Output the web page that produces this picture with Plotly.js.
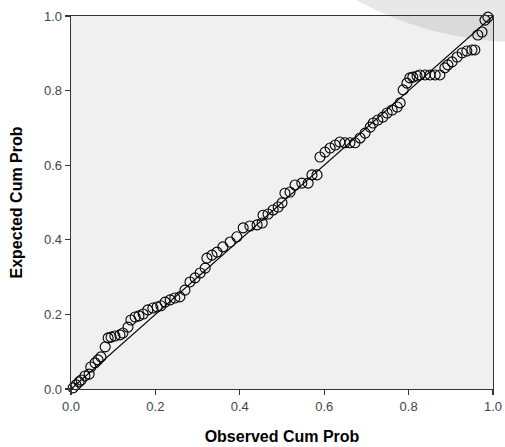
<!DOCTYPE html>
<html>
<head>
<meta charset="utf-8">
<script src="https://cdn.plot.ly/plotly-3.0.1.min.js"></script>
<style>html,body{margin:0;padding:0;background:#fff;}#chart{width:505px;height:447px;}</style>
</head>
<body>
<div id="chart"></div>
<script>
// Observed cumulative probability
var observed = [0.005,0.012,0.019,0.024,0.033,0.043,0.047,0.057,0.064,0.071,
0.081,0.088,0.095,0.104,0.116,0.123,0.135,0.142,0.152,0.161,
0.171,0.182,0.194,0.204,0.213,0.223,0.235,0.246,0.258,0.270,
0.282,0.294,0.306,0.318,0.322,0.334,0.346,0.360,0.377,0.393,
0.408,0.424,0.441,0.453,0.455,0.467,0.479,0.491,0.500,0.507,
0.519,0.531,0.547,0.562,0.571,0.583,0.590,0.602,0.614,0.626,
0.637,0.649,0.661,0.673,0.685,0.697,0.709,0.716,0.727,0.739,
0.749,0.761,0.773,0.780,0.787,0.796,0.803,0.810,0.820,0.827,
0.839,0.851,0.863,0.874,0.886,0.893,0.903,0.915,0.927,0.938,
0.950,0.957,0.964,0.974,0.981,0.988];
// Expected cumulative probability
var expected = [0.003,0.011,0.019,0.024,0.035,0.040,0.059,0.070,0.078,0.086,
0.113,0.137,0.139,0.142,0.145,0.150,0.166,0.185,0.193,0.196,
0.201,0.212,0.217,0.220,0.223,0.233,0.239,0.244,0.247,0.265,
0.287,0.298,0.311,0.324,0.351,0.359,0.367,0.381,0.394,0.408,
0.432,0.437,0.440,0.445,0.466,0.469,0.480,0.488,0.499,0.525,
0.528,0.547,0.552,0.552,0.574,0.574,0.622,0.635,0.646,0.654,
0.662,0.660,0.660,0.660,0.673,0.686,0.702,0.713,0.721,0.729,
0.740,0.748,0.756,0.767,0.802,0.820,0.834,0.836,0.839,0.842,
0.842,0.842,0.842,0.842,0.861,0.869,0.877,0.890,0.901,0.906,
0.909,0.909,0.949,0.957,0.989,0.997];
var refLineX = [0, 1];
var refLineY = [0, 1];
var tickVals = [0, 0.2, 0.4, 0.6, 0.8, 1.0];
var tickText = ['0.0', '0.2', '0.4', '0.6', '0.8', '1.0'];

var traces = [
  {x: refLineX, y: refLineY, mode: 'lines', type: 'scatter',
   line: {color: '#000', width: 1.2}, hoverinfo: 'skip', cliponaxis: false},
  {x: observed, y: expected, mode: 'markers', type: 'scatter',
   marker: {symbol: 'circle-open', size: 10, color: '#000', line: {width: 1.1, color: '#000'}},
   cliponaxis: false}
];

var axisCommon = {
  range: [0, 1], tickvals: tickVals, ticktext: tickText,
  showgrid: false, zeroline: false, showline: true, mirror: true,
  linecolor: '#333', linewidth: 1.3,
  ticks: 'outside', ticklen: 5, tickwidth: 1.3, tickcolor: '#333',
  tickfont: {family: 'Liberation Sans, Arial, sans-serif', size: 13, color: '#444'}
};

var layout = {
  width: 505, height: 447,
  margin: {l: 71, r: 12, t: 16, b: 58},
  paper_bgcolor: '#fff', plot_bgcolor: '#f0f0f0',
  showlegend: false,
  xaxis: Object.assign({}, axisCommon, {
    title: {text: 'Observed Cum Prob', standoff: 18,
      font: {family: 'Liberation Sans, Arial, sans-serif', size: 16, color: '#000', weight: 'bold'}}
  }),
  yaxis: Object.assign({}, axisCommon, {
    title: {text: 'Expected Cum Prob', standoff: 17,
      font: {family: 'Liberation Sans, Arial, sans-serif', size: 16, color: '#000', weight: 'bold'}}
  }),
  shapes: [
    {type: 'circle', xref: 'paper', yref: 'paper', x0: 0.258, x1: 1.87, y0: 0.93, y1: 2.75,
     fillcolor: 'rgba(0,0,0,0.09)', line: {width: 0}, layer: 'below'}
  ]
};

Plotly.newPlot('chart', traces, layout, {displayModeBar: false, staticPlot: true});
</script>
</body>
</html>
